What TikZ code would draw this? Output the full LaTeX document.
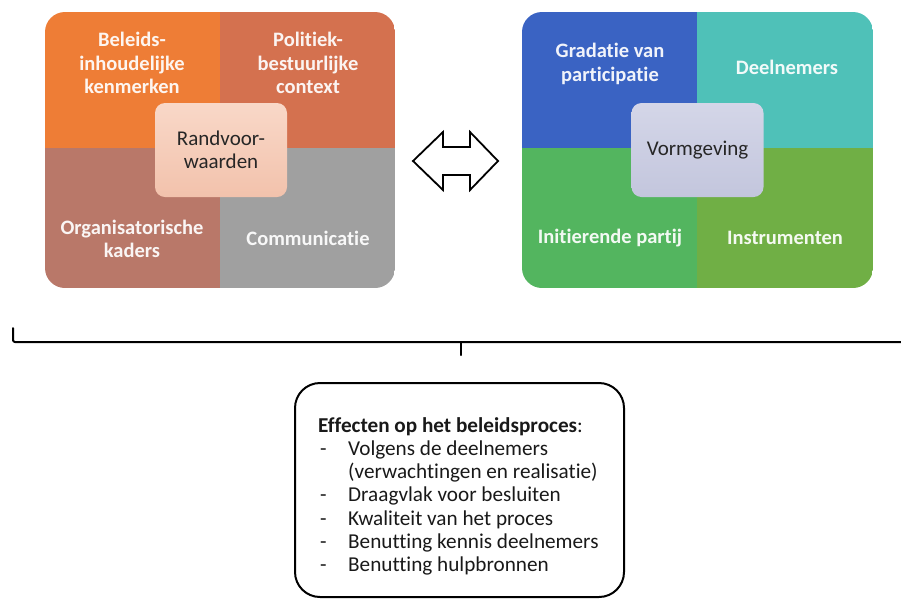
\documentclass[tikz,border=0pt]{standalone}
\usepackage{fontspec}
\setmainfont{Carlito}[Ligatures={NoCommon}]
\begin{document}
\begin{tikzpicture}[x=1pt,y=-1pt,
  quadtext/.style={font=\bfseries\fontsize{20.5}{23.5}\selectfont, text=white, text opacity=0.93, align=center, inner sep=0pt},
  hubbox/.style={rounded corners=10pt, minimum width=132pt, minimum height=94pt, inner sep=0pt,
    font=\fontsize{21}{23}\selectfont, text=black!85, align=center},
  bracketline/.style={line width=2pt, line join=round, line cap=round},
  outline/.style={draw=black, line width=1.8pt, line join=miter}]
\definecolor{polTL}{HTML}{EE7D36}
\definecolor{polTR}{HTML}{D4714F}
\definecolor{polBL}{HTML}{B97869}
\definecolor{polBR}{HTML}{A0A0A0}
\definecolor{polHubTop}{HTML}{F9D8C8}
\definecolor{polHubBot}{HTML}{F2C2AC}
\definecolor{frmTL}{HTML}{3A63C3}
\definecolor{frmTR}{HTML}{4FC1B8}
\definecolor{frmBL}{HTML}{53B55F}
\definecolor{frmBR}{HTML}{70AF45}
\definecolor{frmHubTop}{HTML}{D4D6E8}
\definecolor{frmHubBot}{HTML}{C3C6DD}

\useasboundingbox (0,0) rectangle (901,598);

% Randvoorwaarden block
\begin{scope}
  \clip[rounded corners=20pt] (45,12) rectangle (395,288);
  \fill[polTL] (45,12) rectangle (220,148);
  \fill[polTR] (220,12) rectangle (395,148);
  \fill[polBL] (45,148) rectangle (220,288);
  \fill[polBR] (220,148) rectangle (395,288);
\end{scope}
\node[quadtext] (beleid) at (132,63) {Beleids-\\inhoudelijke\\kenmerken};
\node[quadtext] (politiek) at (308,63) {Politiek-\\bestuurlijke\\context};
\node[quadtext] (organisatie) at (132,239) {Organisatorische\\kaders};
\node[quadtext] (communicatie) at (308,238) {Communicatie};
\node[hubbox, top color=polHubTop, bottom color=polHubBot] (randvoorwaarden) at (221,150) {Randvoor-\\waarden};

% Vormgeving block
\begin{scope}
  \clip[rounded corners=20pt] (522,12) rectangle (873,288);
  \fill[frmTL] (522,12) rectangle (697,148);
  \fill[frmTR] (697,12) rectangle (873,148);
  \fill[frmBL] (522,148) rectangle (697,288);
  \fill[frmBR] (697,148) rectangle (873,288);
\end{scope}
\node[quadtext] (gradatie) at (610,64) {Gradatie van\\participatie};
\node[quadtext] (deelnemers) at (787,67) {Deelnemers};
\node[quadtext] (initierend) at (610,238) {Initierende partij};
\node[quadtext] (instrumenten) at (785,238) {Instrumenten};
\node[hubbox, top color=frmHubTop, bottom color=frmHubBot] (vormgeving) at (697.5,150) {Vormgeving};

% two-way arrow between the blocks
\draw[outline, fill=white] (413,161) -- (443,132) -- (443,147) -- (470,147) -- (470,132)
  -- (498,161) -- (470,190) -- (470,175) -- (443,175) -- (443,190) -- cycle;

% bracket gathering both blocks
\coordinate (bracketstart) at (13,328);
\coordinate (bracketcorner) at (13,342);
\coordinate (bracketend) at (901,342);
\coordinate (brackettick) at (461,342);
\coordinate (bracketpoint) at (461,355);
\draw[bracketline, rounded corners=2pt] (bracketstart) -- (bracketcorner) -- (bracketend);
\draw[bracketline] (brackettick) -- (bracketpoint);

% effects box
\node[draw=black, line width=2pt, rounded corners=25pt, minimum width=329pt, minimum height=214pt,
  anchor=north west, inner sep=0pt] (effecten) at (294,382) {};
\node[anchor=base west, inner sep=0pt, font=\fontsize{21.2}{23.3}\selectfont, text=black!90] (effectentekst) at (318,432) {%
  \begin{tabular}[t]{@{\hspace{2pt}}p{28pt}@{}l@{}}
    \multicolumn{2}{@{}l@{}}{\textbf{Effecten op het beleidsproces}:}\\
    - & Volgens de deelnemers\\
      & (verwachtingen en realisatie)\\
    - & Draagvlak voor besluiten\\
    - & Kwaliteit van het proces\\
    - & Benutting kennis deelnemers\\
    - & Benutting hulpbronnen
  \end{tabular}};
\end{tikzpicture}
\end{document}
